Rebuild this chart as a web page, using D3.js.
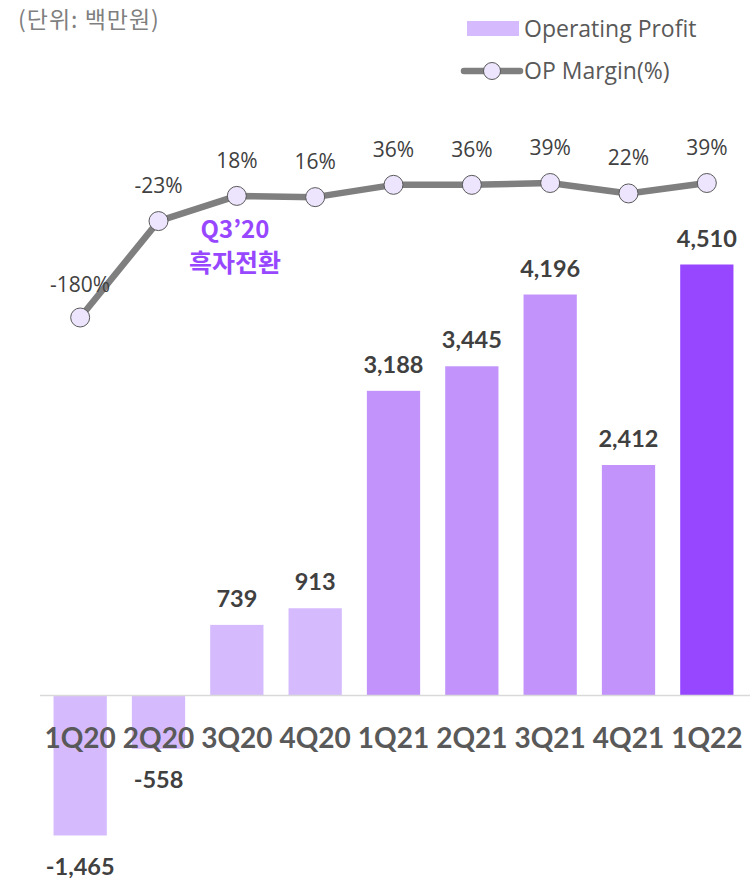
<!DOCTYPE html>
<html><head><meta charset="utf-8">
<script src="https://cdn.jsdelivr.net/npm/d3@7"></script>
<style>body{margin:0;background:#fff}svg{display:block}</style>
</head><body>
<svg id="c" width="753" height="878"></svg>
<script>
const categories = ["1Q20","2Q20","3Q20","4Q20","1Q21","2Q21","3Q21","4Q21","1Q22"];
const operatingProfit = [-1465, -558, 739, 913, 3188, 3445, 4196, 2412, 4510];
const opMargin = [-180, -23, 18, 16, 36, 36, 39, 22, 39];
const barColors = ["#d5bbfd","#d5bbfd","#d5bbfd","#d5bbfd","#c293fb","#c293fb","#c293fb","#c293fb","#9747ff"];

const svg = d3.select("#c");
const font = "Lato, 'Noto Sans', sans-serif";
const x = d3.scaleBand().domain(categories).range([41, 746]).paddingInner(0.32).paddingOuter(0.16);
const y = d3.scaleLinear().domain([-1465, 4510]).range([835.5, 264.5]);
const ym = d3.scaleLinear().domain([-180, 39]).range([317.5, 183]);
const fmt = d => d3.format(",")(d).replace("−", "-");

// bars
svg.selectAll("rect.bar").data(operatingProfit).join("rect")
  .attr("x", (d,i)=>x(categories[i])).attr("width", x.bandwidth())
  .attr("y", d=>y(Math.max(0,d))).attr("height", d=>Math.abs(y(d)-y(0)))
  .attr("fill", (d,i)=>barColors[i]);

// baseline axis
svg.append("line").attr("x1",40).attr("x2",750).attr("y1",y(0)).attr("y2",y(0))
  .attr("stroke","#d9d9d9").attr("stroke-width",1.5);

// category labels
const xAxis = d3.axisBottom(x).tickSize(0).tickPadding(0);
const ax = svg.append("g").attr("transform",`translate(0,${y(0)})`).call(xAxis);
ax.select(".domain").remove();
ax.selectAll("text").attr("dy",null).attr("y",53).attr("font-family",font).attr("font-weight","bold")
  .attr("font-size",28).attr("fill","#595959");

// value labels
svg.selectAll("text.val").data(operatingProfit).join("text")
  .attr("x",(d,i)=>x(categories[i])+x.bandwidth()/2)
  .attr("y",d=> d>=0 ? y(d)-18 : y(d)+39)
  .attr("text-anchor","middle").attr("font-family",font).attr("font-weight","bold")
  .attr("font-size",23.5).attr("fill","#404040")
  .text(fmt);

// line
const pts = opMargin.map((v,i)=>[x(categories[i])+x.bandwidth()/2, ym(v)]);
svg.append("path").attr("d", d3.line()(pts)).attr("fill","none")
  .attr("stroke","#7f7f7f").attr("stroke-width",6.5).attr("stroke-linejoin","round");
svg.selectAll("circle.pt").data(pts).join("circle")
  .attr("cx",d=>d[0]).attr("cy",d=>d[1]).attr("r",9.5)
  .attr("fill","#ede5fd").attr("stroke","#595959").attr("stroke-width",1);
svg.selectAll("text.pct").data(opMargin).join("text")
  .attr("x",(d,i)=>pts[i][0]).attr("y",(d,i)=>pts[i][1]-(i===0?26:28))
  .attr("text-anchor","middle").attr("font-family","'Open Sans', sans-serif")
  .attr("font-size",21).attr("fill","#404040")
  .text(d=>d+"%");

// annotation (two separate lines)
svg.append("text").attr("text-anchor","middle").attr("font-family","'Noto Sans CJK KR', sans-serif")
  .attr("font-weight","bold").attr("font-size",24).attr("fill","#9747ff")
  .attr("x",235).attr("y",238).text("Q3’20");
svg.append("text").attr("text-anchor","middle").attr("font-family","'Noto Sans CJK KR', sans-serif")
  .attr("font-weight","bold").attr("font-size",25).attr("fill","#9747ff")
  .attr("x",235).attr("y",272).text("흑자전환");

// unit title
svg.append("text").attr("x",18).attr("y",28).attr("font-family","'Noto Sans CJK KR', sans-serif")
  .attr("font-size",23).attr("letter-spacing",1).attr("fill","#7f7f7f").text("(단위: 백만원)");

// legend
svg.append("rect").attr("x",467).attr("y",21).attr("width",52).attr("height",15).attr("fill","#d5bbfd");
svg.append("text").attr("x",524).attr("y",37).attr("font-family","'Open Sans', sans-serif")
  .attr("font-size",23).attr("fill","#595959").text("Operating Profit");
svg.append("line").attr("x1",464).attr("x2",520).attr("y1",71).attr("y2",71)
  .attr("stroke","#7f7f7f").attr("stroke-width",6.5).attr("stroke-linecap","round");
svg.append("circle").attr("cx",492).attr("cy",71).attr("r",8.5).attr("fill","#ede5fd").attr("stroke","#595959");
svg.append("text").attr("x",524).attr("y",79).attr("font-family","'Open Sans', sans-serif")
  .attr("font-size",23).attr("fill","#595959").text("OP Margin(%)");
</script>
</body></html>
